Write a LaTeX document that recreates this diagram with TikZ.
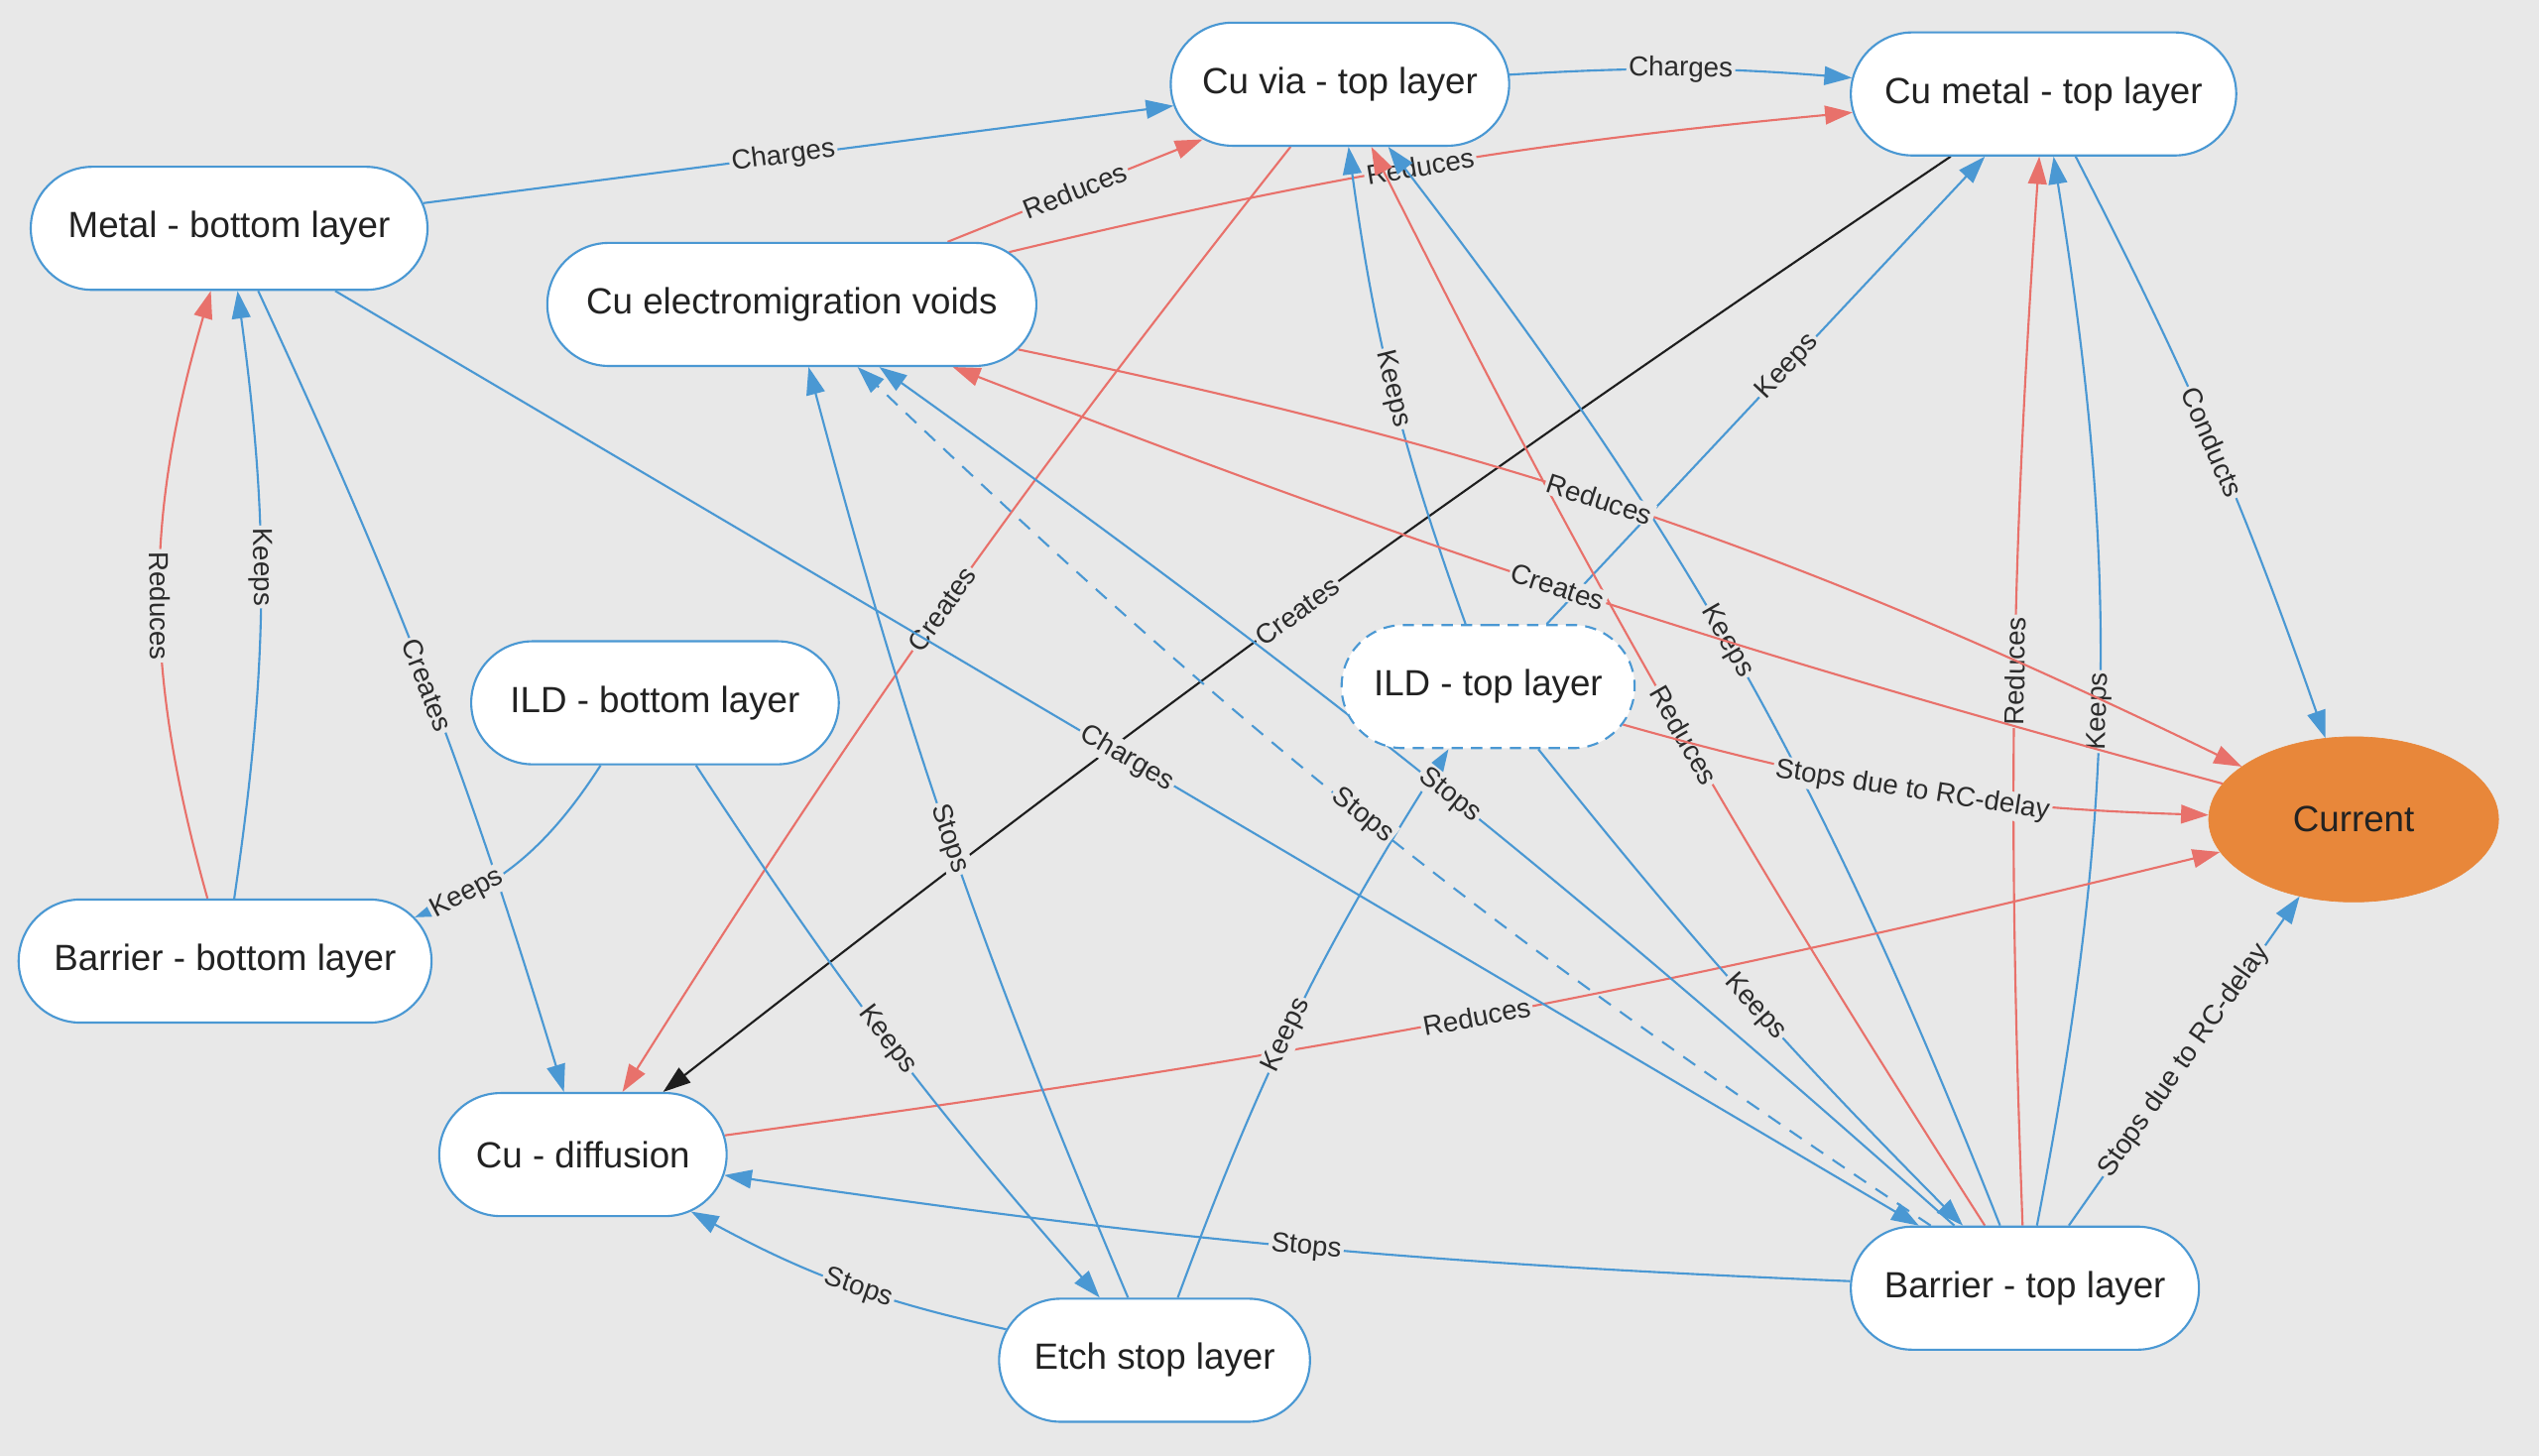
\documentclass[tikz,border=0pt]{standalone}
\usepackage{fontspec}
\setmainfont{Liberation Sans}
\usetikzlibrary{arrows.meta,shapes.misc,shapes.geometric}
\definecolor{bgc}{HTML}{E8E8E8}
\definecolor{nblue}{HTML}{4A98D3}
\definecolor{ered}{HTML}{E8716B}
\definecolor{eblack}{HTML}{1E1E1E}
\definecolor{corange}{HTML}{E8873A}
\definecolor{ntext}{HTML}{222222}
\definecolor{ltext}{HTML}{2B2B2B}
\pgfdeclarelayer{edgelayer}
\pgfsetlayers{edgelayer,main}
\begin{document}
\begin{tikzpicture}[x=1pt,y=-1pt,
  pill/.style={rounded rectangle, draw=nblue, line width=1.3pt, fill=white,
    minimum height=76pt, inner xsep=4pt, inner ysep=0pt,
    font=\fontsize{22.5}{27}\selectfont, text=ntext},
  dashbox/.style={dash pattern=on 7pt off 5pt},
  curnode/.style={ellipse, fill=corange, draw=corange, minimum width=179pt,
    minimum height=102pt, inner sep=0pt, font=\fontsize{22.5}{27}\selectfont, text=ntext},
  arr/.style={-{Triangle[length=17pt,width=11.5pt]}},
  eb/.style={arr, draw=nblue, line width=1.3pt},
  er/.style={arr, draw=ered, line width=1.3pt},
  ek/.style={arr, draw=eblack, line width=1.3pt},
  dashedge/.style={dash pattern=on 9pt off 7pt},
  lbl/.style={sloped, inner xsep=1.5pt, inner ysep=1pt, fill=bgc, text=ltext,
    font=\fontsize{17}{17}\selectfont}
]
\begin{pgfonlayer}{edgelayer}
\fill[bgc] (0,0) rectangle (1568,899);
\end{pgfonlayer}
\useasboundingbox (0,0) rectangle (1568,899);

\node[pill, minimum width=217pt] (via) at (827.5,52) {Cu via - top layer};
\node[pill, minimum width=246pt] (cmt) at (1262,58) {Cu metal - top layer};
\node[pill, minimum width=253pt] (mbl) at (141.5,141) {Metal - bottom layer};
\node[pill, minimum width=310pt] (emv) at (489,188) {Cu electromigration voids};
\node[pill, minimum width=235pt] (ildb) at (404.5,434) {ILD - bottom layer};
\node[pill, dashbox, minimum width=189pt] (ildt) at (919,424) {ILD - top layer};
\node[curnode] (cur) at (1453.5,506) {Current};
\node[pill, minimum width=263pt] (bbl) at (139,593.5) {Barrier - bottom layer};
\node[pill, minimum width=185.5pt] (cud) at (360,713) {Cu - diffusion};
\node[pill, minimum width=223pt] (btl) at (1250.5,795.5) {Barrier - top layer};
\node[pill, minimum width=200pt] (esl) at (713,840) {Etch stop layer};

\begin{pgfonlayer}{edgelayer}
\draw[eb] (mbl) to node[lbl, pos=0.48]{Charges} (via);
\draw[er] (emv) to node[lbl]{Reduces} (via);
\draw[er] (emv) to[bend left=4] node[lbl, pos=0.49]{Reduces} (cmt);
\draw[eb] (via) to[bend left=4] node[lbl]{Charges} (cmt);
\draw[er] (via) to[bend right=3] node[lbl]{Creates} (cud);
\draw[ek] (cmt) to[bend right=2] node[lbl]{Creates} (cud);
\draw[eb] (ildt) to[bend left=6] node[lbl]{Keeps} (via);
\draw[eb] (ildt) to node[lbl, pos=0.55]{Keeps} (cmt);
\draw[eb] (btl) to[bend right=8] node[lbl, pos=0.52]{Keeps} (via);
\draw[er] (btl) to[bend left=3] node[lbl, pos=0.46]{Reduces} (via);
\draw[er] (btl) to[bend left=3] node[lbl, pos=0.52]{Reduces} (cmt);
\draw[eb] (btl) to[bend right=10] node[lbl, pos=0.48]{Keeps} (cmt);
\draw[eb] (cmt) to[bend left=4] node[lbl]{Conducts} (cur);
\draw[er] (emv) to[bend left=7] node[lbl, pos=0.46]{Reduces} (cur);
\draw[er] (cur) to[bend left=3] node[lbl, pos=0.52]{Creates} (emv);
\draw[er] (ildt) to[bend right=7] node[lbl]{Stops due to RC-delay} (cur);
\draw[er] (cud) to[bend right=3] node[lbl]{Reduces} (cur);
\draw[eb] (btl) to node[lbl]{Stops due to RC-delay} (cur);
\draw[eb] (mbl) to node[lbl]{Charges} (btl);
\draw[eb] (mbl) to[bend left=4] node[lbl]{Creates} (cud);
\draw[er] (bbl) to[bend left=16] node[lbl, pos=0.48]{Reduces} (mbl);
\draw[eb] (bbl) to[bend right=8] node[lbl, pos=0.55]{Keeps} (mbl);
\draw[eb] (ildb) to[bend left=18] node[lbl, pos=0.78]{Keeps} (bbl);
\draw[eb] (ildb) to[bend right=4] node[lbl]{Keeps} (esl);
\draw[eb] (esl) to[bend left=4] node[lbl]{Stops} (emv);
\draw[eb] (esl) to[bend left=6] node[lbl, pos=0.46]{Keeps} (ildt);
\draw[eb] (esl) to[bend left=8] node[lbl, pos=0.45]{Stops} (cud);
\draw[eb] (btl) to[bend left=3] node[lbl, pos=0.48]{Stops} (cud);
\draw[eb] (btl) to[bend right=3] node[lbl, pos=0.48]{Stops} (emv);
\draw[eb, dashedge] (btl) to[bend left=5] node[lbl, pos=0.51]{Stops} (emv);
\draw[eb] (ildt) to[bend right=3] node[lbl, pos=0.53]{Keeps} (btl);
\end{pgfonlayer}
\end{tikzpicture}
\end{document}
